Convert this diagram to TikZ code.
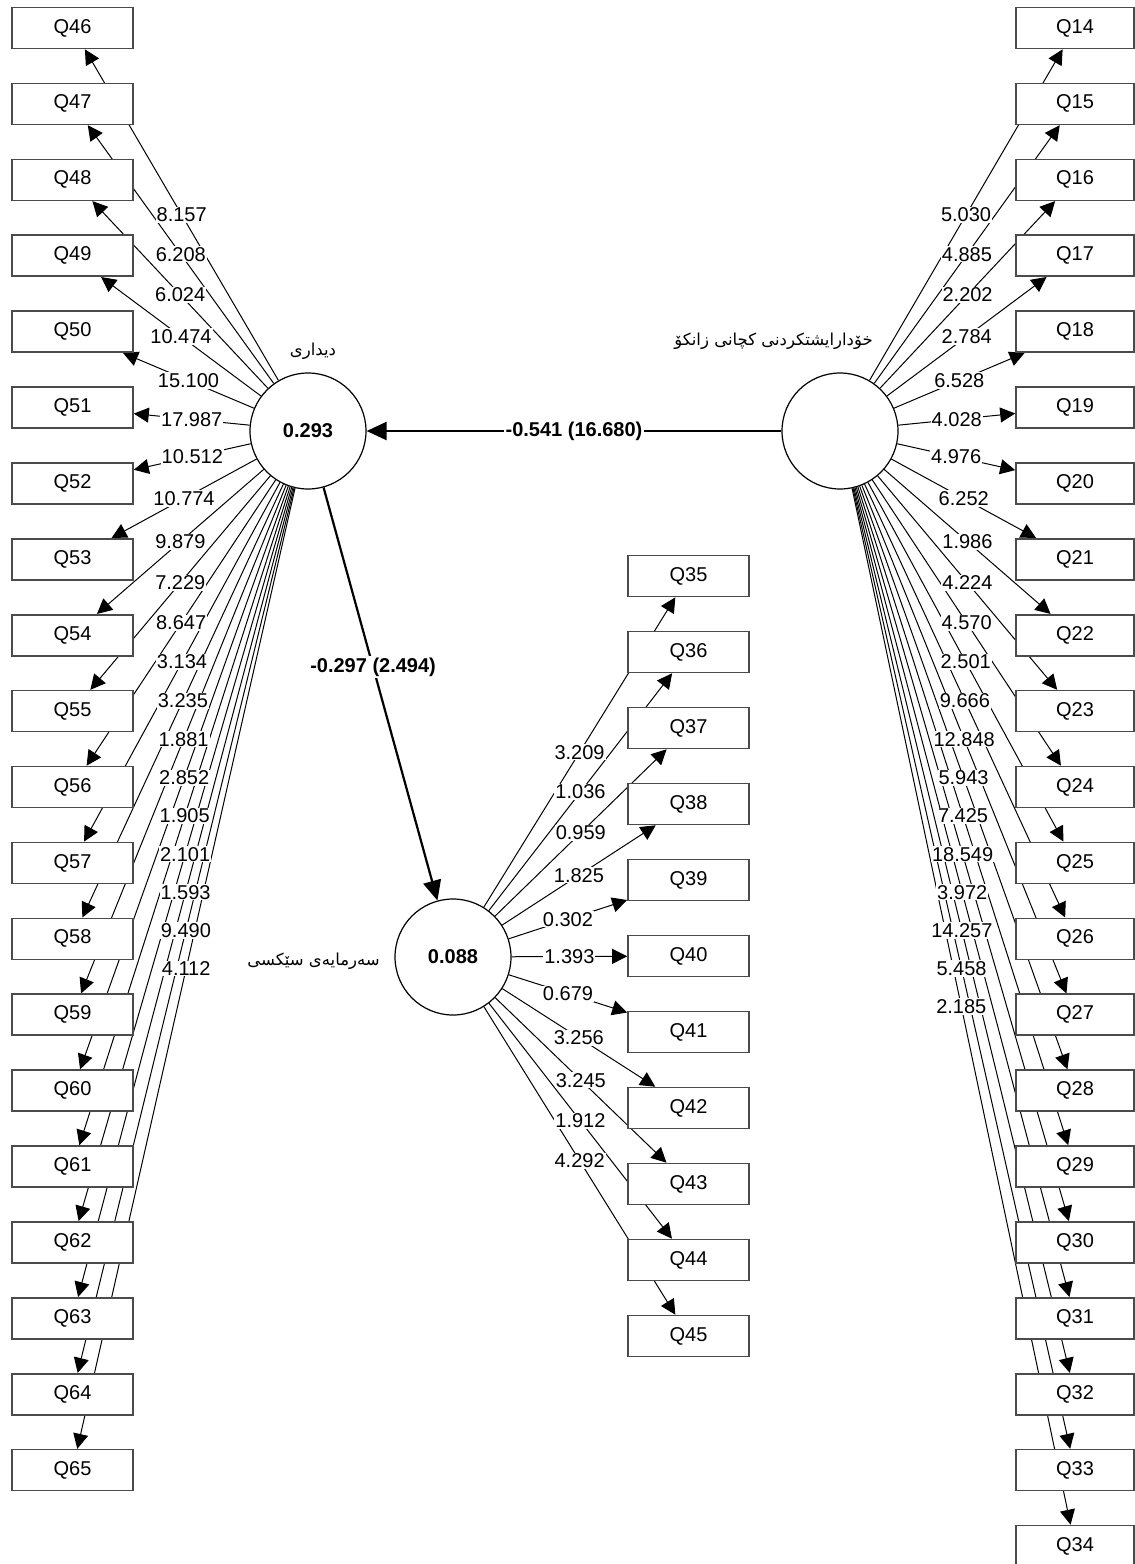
\documentclass[tikz,border=0pt]{standalone}
\usepackage{fontspec}
\setmainfont{Liberation Sans}
\newfontfamily\arabicfont[Script=Arabic]{DejaVu Sans}
\TeXXeTstate=1
\usetikzlibrary{arrows.meta}
\pgfdeclarelayer{edges}
\pgfsetlayers{edges,main}
\definecolor{boxline}{RGB}{75,75,75}
\tikzset{
  qbox/.style={draw=boxline,line width=1.6pt,fill=white,minimum width=121pt,minimum height=41pt,inner sep=0pt,font=\fontsize{20}{24}\selectfont},
  qboxr/.style={qbox,minimum width=118pt},
  latent/.style={draw=black,line width=1.2pt,circle,fill=white,minimum size=116pt,inner sep=0pt,font=\fontsize{20}{24}\selectfont\bfseries},
  ind/.style={draw=black,line width=1pt,-{Triangle[length=15pt,width=15pt]}},
  lbl/.style={fill=white,inner sep=1pt,font=\fontsize{20}{24}\selectfont},
  path/.style={draw=black,line width=2.2pt,-{Triangle[length=20pt,width=18pt]}},
  plbl/.style={fill=white,inner sep=2pt,font=\fontsize{20}{24}\selectfont\bfseries},
  arlbl/.style={inner sep=0pt,font=\fontsize{16.5}{19}\arabicfont}
}
\begin{document}
\begin{tikzpicture}[x=1pt,y=-1pt]
\useasboundingbox (0,0) rectangle (1135,1564);
% latent variables
\node[latent] (L) at (308,431) {0.293};
\node[latent] (R) at (840,431) {};
\node[latent] (M) at (453,957) {0.088};
\node[arlbl] (Ltxt) at (313,351) {\beginR دیداری\endR};
\node[arlbl,anchor=east] (Rtxt) at (873,341) {\beginR خۆدارایشتکردنی کچانی زانکۆ\endR};
\node[arlbl,anchor=east] (Mtxt) at (380,961) {\beginR سەرمایەی سێکسی\endR};
% indicator boxes
\foreach \i in {0,...,19}{
  \pgfmathtruncatemacro\q{46+\i}
  \node[qbox] (q\q) at (72.5,28+75.9*\i) {Q\q};
}
\foreach \i in {0,...,20}{
  \pgfmathtruncatemacro\q{14+\i}
  \node[qboxr] (q\q) at (1075,28+75.9*\i) {Q\q};
}
\foreach \i in {0,...,10}{
  \pgfmathtruncatemacro\q{35+\i}
  \node[qbox] (q\q) at (688.5,576+76*\i) {Q\q};
}
% outer loadings: lines
\begin{pgfonlayer}{edges}
\foreach \q in {46,...,65}{ \draw[ind] (L) -- (q\q); }
\foreach \q in {14,...,34}{ \draw[ind] (R) -- (q\q); }
\foreach \q in {35,...,45}{ \draw[ind] (M) -- (q\q); }
\draw[path] (R) -- (L);
\draw[path] (L) -- (M);
\end{pgfonlayer}
% labels
\foreach \q/\v in {46/8.157,47/6.208,48/6.024,49/10.474,50/15.100,51/17.987,52/10.512,53/10.774,54/9.879,55/7.229,56/8.647,57/3.134,58/3.235,59/1.881,60/2.852,61/1.905,62/2.101,63/1.593,64/9.490,65/4.112}{
  \path (L) -- (q\q) node[lbl,midway] {\v};
}
\foreach \q/\v in {14/5.030,15/4.885,16/2.202,17/2.784,18/6.528,19/4.028,20/4.976,21/6.252,22/1.986,23/4.224,24/4.570,25/2.501,26/9.666,27/12.848,28/5.943,29/7.425,30/18.549,31/3.972,32/14.257,33/5.458,34/2.185}{
  \path (R) -- (q\q) node[lbl,midway] {\v};
}
\foreach \q/\v in {35/3.209,36/1.036,37/0.959,38/1.825,39/0.302,40/1.393,41/0.679,42/3.256,43/3.245,44/1.912,45/4.292}{
  \path (M) -- (q\q) node[lbl,midway] {\v};
}
\path (R) -- (L) node[plbl,midway] {-0.541 (16.680)};
\path (L) -- (M) node[plbl,pos=0.435] {-0.297 (2.494)};
\end{tikzpicture}
\end{document}
